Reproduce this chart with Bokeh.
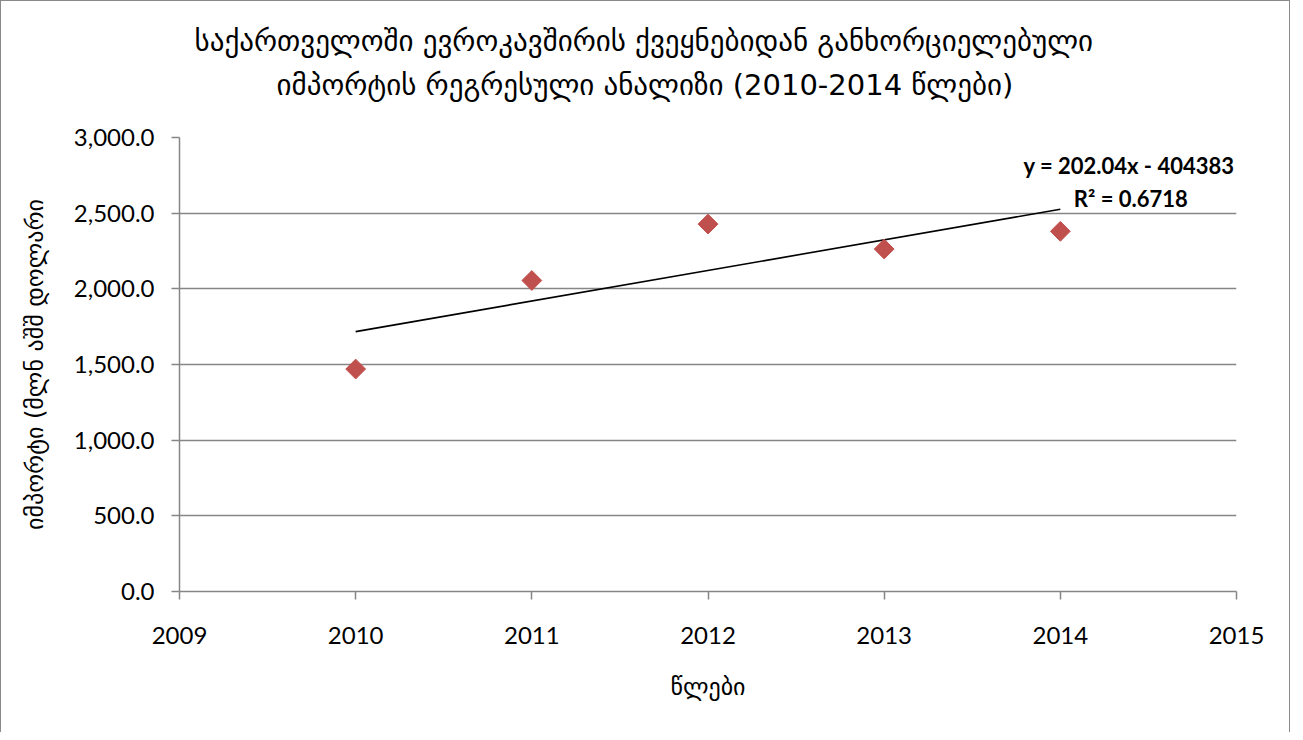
from bokeh.plotting import figure
from bokeh.models import NumeralTickFormatter, FixedTicker, Label, Title, Range1d
from bokeh.embed import file_html
from bokeh.resources import INLINE

years = [2010, 2011, 2012, 2013, 2014]
imports = [1470, 2055, 2428, 2263, 2380]
x_ticks = [2009, 2010, 2011, 2012, 2013, 2014, 2015]
y_ticks = [0, 500, 1000, 1500, 2000, 2500, 3000]
slope = 202.04
intercept = -404383
r2 = 0.6718
title_lines = ["საქართველოში ევროკავშირის ქვეყნებიდან განხორციელებული",
               "იმპორტის რეგრესული ანალიზი (2010-2014 წლები)"]
x_label = "წლები"
y_label = "იმპორტი (მლნ აშშ დოლარი"

GEO = "DejaVu Sans"
NUM = "Lato"

p = figure(width=1290, height=732, output_backend="svg", toolbar_location=None,
           x_range=Range1d(2009, 2015), y_range=Range1d(0, 3000),
           min_border_left=178, min_border_right=55, min_border_top=136, min_border_bottom=142)
p.styles = {"border-left": "1.5px solid #8a8a8a", "border-top": "1.5px solid #8a8a8a",
            "border-right": "1.5px solid #8a8a8a"}
p.outline_line_color = None
p.background_fill_color = "white"
p.border_fill_color = "white"

# spacer between the frame and the two title lines
p.add_layout(Title(text=" ", text_font_size="1px", standoff=24), "above")
# titles centred on the whole chart (not the plot frame), as in the original
title_offsets = [15, 97]
for i, (line, off) in enumerate(reversed(list(zip(title_lines, title_offsets)))):
    t = Title(text=line, align="left", offset=off, text_font=GEO, text_font_size="29px",
              text_font_style="normal", text_color="black", standoff=17 if i == 0 else 0)
    p.add_layout(t, "above")

p.xaxis.ticker = FixedTicker(ticks=x_ticks)
p.yaxis.ticker = FixedTicker(ticks=y_ticks)
p.yaxis.formatter = NumeralTickFormatter(format="0,0.0")
for ax in (p.xaxis, p.yaxis):
    ax.axis_line_color = "#868686"
    ax.axis_line_width = 1.5
    ax.major_tick_line_color = "#868686"
    ax.major_tick_line_width = 1.5
    ax.major_tick_out = 8
    ax.major_tick_in = 0
    ax.minor_tick_line_color = None
    ax.major_label_text_font = NUM
    ax.major_label_text_font_size = "24px"
    ax.major_label_text_color = "black"
    ax.axis_label_text_font = GEO
    ax.axis_label_text_font_style = "normal"
    ax.axis_label_text_font_size = "24px"
    ax.axis_label_text_color = "black"
p.xaxis.major_label_standoff = 27
p.yaxis.major_label_standoff = 17
p.xaxis.axis_label = x_label
p.yaxis.axis_label = y_label
p.xaxis.axis_label_standoff = 26
p.yaxis.axis_label_standoff = 22

p.xgrid.grid_line_color = None
p.ygrid.grid_line_color = "#868686"
p.ygrid.grid_line_width = 1.5

tx = [years[0], years[-1]]
ty = [slope * x + intercept for x in tx]
p.line(tx, ty, line_color="black", line_width=1.6)

p.scatter(years, imports, marker="square", size=14, angle=0.785398,
          fill_color="#C0504D", line_color="#C0504D")

eq1 = Label(x=2015, y=2814, x_offset=-2, text="y = %.2fx - %d" % (slope, -intercept),
            text_align="right", text_baseline="middle", text_font=NUM,
            text_font_size="22px", text_font_style="bold", text_color="black")
eq2 = Label(x=2014.40, y=2596, text="R² = %.4f" % r2,
            text_align="center", text_baseline="middle", text_font=NUM,
            text_font_size="22px", text_font_style="bold", text_color="black")
p.add_layout(eq1)
p.add_layout(eq2)

open("out.html", "w").write(file_html(p, INLINE))
